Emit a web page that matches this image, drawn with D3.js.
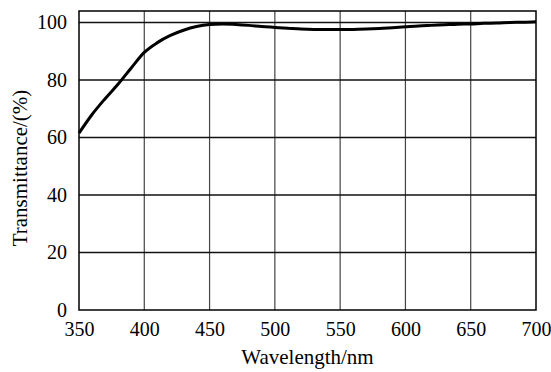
<!DOCTYPE html>
<html>
<head>
<meta charset="utf-8">
<script src="https://cdn.jsdelivr.net/npm/d3@7"></script>
<style>
  body { margin: 0; background: #fff; }
  text { font-family: "Liberation Serif", "Times New Roman", serif; fill: #000; }
</style>
</head>
<body>
<div id="chart"></div>
<script>
// Wavelength (nm) and transmittance (%)
var wavelength = [350, 360, 370, 380, 390, 400, 410, 420, 430, 440, 450, 460, 470, 480, 490,
                  500, 510, 520, 530, 540, 550, 560, 570, 580, 590, 600, 610, 620, 630, 640,
                  650, 660, 670, 680, 690, 700];
var transmittance = [61.5, 68, 73.5, 78.6, 84.2, 89.6, 93, 95.5, 97.3, 98.6, 99.3, 99.5, 99.3, 99, 98.6,
                     98.3, 98, 97.7, 97.6, 97.6, 97.6, 97.6, 97.7, 97.9, 98.2, 98.5, 98.8, 99, 99.2, 99.4,
                     99.5, 99.7, 99.8, 100, 100.1, 100.3];
var xTicks = [350, 400, 450, 500, 550, 600, 650, 700];
var yTicks = [0, 20, 40, 60, 80, 100];

function init() {
    var w = 551, h = 372;
    var margin = { top: 11, right: 15, bottom: 62, left: 79 };
    var serif = "'Liberation Serif', 'Times New Roman', serif";

    var svg = d3.select("#chart").append("svg")
        .attr("width", w)
        .attr("height", h);

    var xScale = d3.scaleLinear()
        .domain([350, 700])
        .range([margin.left, w - margin.right]);

    var yScale = d3.scaleLinear()
        .domain([0, 104])
        .range([h - margin.bottom, margin.top]);

    // vertical grid lines
    svg.append("g")
        .selectAll("line")
        .data(xTicks.slice(1, -1))
        .enter()
        .append("line")
        .attr("x1", function(d) { return xScale(d); })
        .attr("x2", function(d) { return xScale(d); })
        .attr("y1", yScale(0))
        .attr("y2", margin.top)
        .attr("stroke", "#444")
        .attr("stroke-width", 1.2);

    // horizontal grid lines
    svg.append("g")
        .selectAll("line")
        .data(yTicks.slice(1))
        .enter()
        .append("line")
        .attr("x1", xScale(350))
        .attr("x2", xScale(700))
        .attr("y1", function(d) { return yScale(d); })
        .attr("y2", function(d) { return yScale(d); })
        .attr("stroke", "#111")
        .attr("stroke-width", 1.3);

    // frame
    svg.append("rect")
        .attr("x", xScale(350))
        .attr("y", margin.top)
        .attr("width", xScale(700) - xScale(350))
        .attr("height", yScale(0) - margin.top)
        .attr("fill", "none")
        .attr("stroke", "#000")
        .attr("stroke-width", 1.5);

    // x axis labels
    var xAxis = d3.axisBottom(xScale)
        .tickValues(xTicks)
        .tickSize(0)
        .tickPadding(12);
    var gx = svg.append("g")
        .attr("transform", "translate(0," + yScale(0) + ")")
        .call(xAxis)
        .attr("font-family", serif)
        .attr("font-size", 20);
    gx.select(".domain").remove();

    // y axis labels
    var yAxis = d3.axisLeft(yScale)
        .tickValues(yTicks)
        .tickSize(0)
        .tickPadding(12);
    var gy = svg.append("g")
        .attr("transform", "translate(" + xScale(350) + ",0)")
        .call(yAxis)
        .attr("font-family", serif)
        .attr("font-size", 20);
    gy.select(".domain").remove();

    // curve
    var line = d3.line()
        .x(function(d, i) { return xScale(wavelength[i]); })
        .y(function(d) { return yScale(d); })
        .curve(d3.curveMonotoneX);

    svg.append("path")
        .datum(transmittance)
        .attr("d", line)
        .attr("fill", "none")
        .attr("stroke", "#000")
        .attr("stroke-width", 3);

    // axis titles
    svg.append("text")
        .attr("x", (xScale(350) + xScale(700)) / 2)
        .attr("y", 364)
        .attr("text-anchor", "middle")
        .style("font-size", "21px")
        .text("Wavelength/nm");

    svg.append("text")
        .attr("transform", "translate(27,168) rotate(-90)")
        .attr("text-anchor", "middle")
        .style("font-size", "21px")
        .text("Transmittance/(%)");
}

window.onload = init;
</script>
</body>
</html>
